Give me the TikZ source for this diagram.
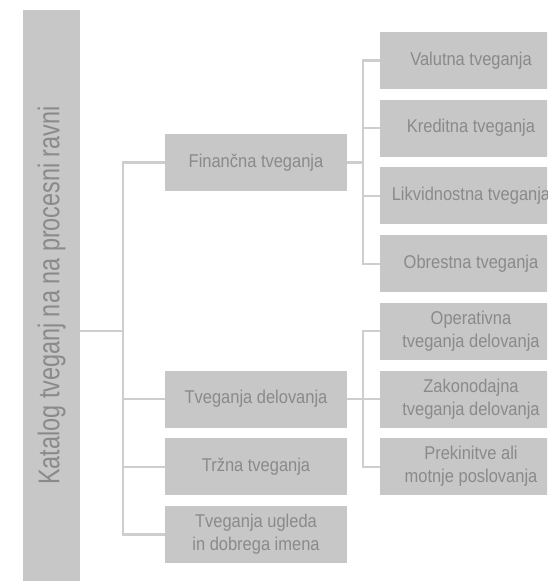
\documentclass[tikz,border=0pt]{standalone}
\usepackage{fontspec}
\setmainfont{Liberation Sans}[FakeStretch=0.89]
\newfontfamily\narrowfont{Liberation Sans}[FakeStretch=0.78]
\usepackage{xcolor}
\usepackage{tikz}
\usetikzlibrary{positioning}
\definecolor{boxgray}{RGB}{200,199,199}
\definecolor{linegray}{RGB}{206,206,206}
\definecolor{textgray}{RGB}{138,138,138}

\begin{document}
\begin{tikzpicture}[x=1pt, y=-1pt, node distance=10.7pt and 33pt,
    riskbox/.style={rectangle, fill=boxgray, text=textgray, minimum width=182pt, minimum height=57pt, inner sep=0pt, outer sep=0pt, align=center, font=\fontsize{18.5}{23}\selectfont},
    catbox/.style={rectangle, fill=boxgray, text=textgray, minimum width=571pt, minimum height=57pt, inner sep=0pt, outer sep=0pt, rotate=90, font=\narrowfont\fontsize{30}{36}\selectfont},
    link/.style={draw=linegray, line width=2.2pt}
]
    \useasboundingbox (0,0) rectangle (547,581);
    \clip (0,0) rectangle (547,581);

    % Nodes
    \node (katalog) [catbox] at (51.5,295.5) {Katalog tveganj na na procesni ravni};

    \node (valutna) [riskbox] at (471,60.5) {Valutna tveganja};
    \node (kreditna) [riskbox, below=of valutna] {Kreditna tveganja};
    \node (likvidna) [riskbox, below=of kreditna] {Likvidnostna tveganja};
    \node (obrestna) [riskbox, below=of likvidna] {Obrestna tveganja};
    \node (operativna) [riskbox, below=of obrestna] {Operativna\\tveganja delovanja};
    \node (zakonodajna) [riskbox, below=of operativna] {Zakonodajna\\tveganja delovanja};
    \node (prekinitve) [riskbox, below=of zakonodajna] {Prekinitve ali\\motnje poslovanja};

    \node (financna) [riskbox] at (256,162.5) {Finančna tveganja};
    \node (delovanje) [riskbox, left=of zakonodajna] {Tveganja delovanja};
    \node (trzna) [riskbox, below=of delovanje] {Tržna tveganja};
    \node (ugled) [riskbox, below=of trzna] {Tveganja ugleda\\in dobrega imena};

    % Connectors
    \coordinate (trunk) at (123,331);
    \coordinate (fork) at (363,0);
    \draw [link] (katalog.south |- trunk) -- (trunk);
    \draw [link] (financna.west) -- (financna.west -| trunk) -- (ugled.west -| trunk) -- (ugled.west);
    \draw [link] (delovanje.west) -- (delovanje.west -| trunk);
    \draw [link] (trzna.west) -- (trzna.west -| trunk);

    \draw [link] (valutna.west) -| (fork |- obrestna.west) -- (obrestna.west);
    \draw [link] (kreditna.west) -- (kreditna.west -| fork);
    \draw [link] (likvidna.west) -- (likvidna.west -| fork);
    \draw [link] (financna.east) -- (financna.east -| fork);

    \draw [link] (operativna.west) -| (fork |- prekinitve.west) -- (prekinitve.west);
    \draw [link] (delovanje.east) -- (zakonodajna.west);
\end{tikzpicture}
\end{document}
